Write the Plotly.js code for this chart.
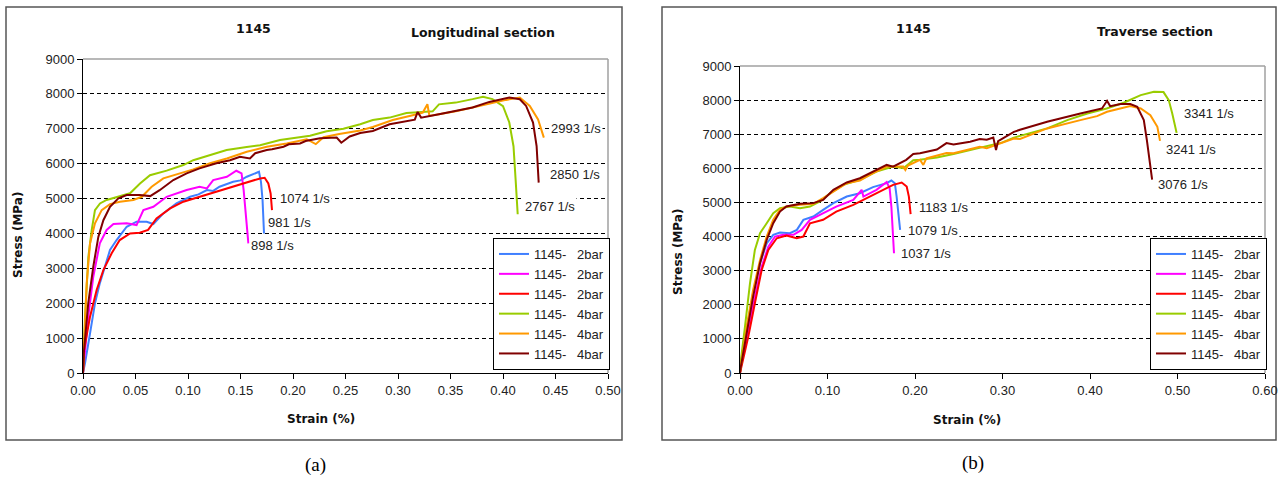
<!DOCTYPE html>
<html><head><meta charset="utf-8">
<script src="https://cdn.plot.ly/plotly-3.0.1.min.js"></script>
<style>html,body{margin:0;padding:0;background:#fff;}#chart{width:1278px;height:479px;}</style>
</head><body><div id="chart"></div>
<script>
// ---- Panel (a): Longitudinal section ----
const aBlueX = [0,0.0019,0.0067,0.0114,0.016,0.021,0.0257,0.032,0.0416,0.051,0.0606,0.067,0.0765,0.089,0.102,0.110,0.118,0.124,0.130,0.143,0.150,0.156,0.165,0.1676,0.1695,0.171,0.1724];
const aBlueY = [0,277,1136,1996,2569,3046,3524,3810,4192,4336,4336,4270,4575,4860,5050,5120,5243,5220,5338,5480,5520,5625,5720,5768,5480,4956,4000];
const aMagX = [0,0.001,0.005,0.0098,0.016,0.0225,0.029,0.0416,0.051,0.0575,0.067,0.0797,0.090,0.0987,0.111,0.118,0.124,0.137,0.146,0.151,0.153,0.155,0.1575];
const aMagY = [0,372,1614,2760,3715,4100,4270,4290,4240,4670,4765,5050,5150,5243,5338,5290,5530,5625,5797,5720,5243,4480,3715];
const aRedX = [0,0.001,0.0067,0.013,0.0194,0.0273,0.035,0.0448,0.054,0.062,0.070,0.083,0.0956,0.111,0.127,0.143,0.159,0.1686,0.173,0.1765,0.1787,0.18];
const aRedY = [0,660,1614,2378,2951,3430,3810,4000,4020,4100,4430,4717,4910,5050,5195,5338,5500,5577,5596,5434,5147,4670];
const aGreenX = [0,0.0019,0.0051,0.0083,0.0114,0.0162,0.0225,0.0337,0.0448,0.0543,0.0638,0.0797,0.0956,0.105,0.1178,0.1368,0.1559,0.1686,0.1876,0.2003,0.2162,0.232,0.248,0.264,0.276,0.292,0.308,0.323,0.333,0.339,0.355,0.371,0.381,0.390,0.400,0.406,0.410,0.412,0.414];
const aGreenY = [0,1600,3330,4100,4670,4860,4960,5050,5150,5430,5670,5800,5960,6100,6220,6390,6480,6530,6680,6740,6800,6930,7000,7130,7250,7320,7450,7480,7500,7700,7750,7850,7920,7850,7650,7180,6500,5550,4550];
const aOrangeX = [0,0.0035,0.0067,0.0114,0.0178,0.0257,0.0352,0.048,0.056,0.0654,0.0765,0.0924,0.105,0.121,0.137,0.156,0.175,0.194,0.213,0.2217,0.229,0.244,0.264,0.276,0.295,0.314,0.3236,0.328,0.3299,0.339,0.355,0.371,0.390,0.403,0.416,0.4255,0.4334,0.4389];
const aOrangeY = [0,2570,3715,4290,4670,4840,4910,4960,5050,5340,5580,5720,5835,6010,6150,6340,6485,6580,6700,6560,6760,6850,6950,7050,7250,7388,7464,7703,7368,7416,7500,7608,7750,7828,7895,7655,7270,6746];
const aBrownX = [0,0.001,0.005,0.0098,0.0146,0.0194,0.0257,0.0337,0.0416,0.054,0.064,0.073,0.086,0.0987,0.111,0.127,0.140,0.1495,0.159,0.164,0.175,0.180,0.191,0.196,0.2067,0.212,0.2257,0.2416,0.246,0.254,0.264,0.276,0.292,0.3076,0.316,0.3187,0.322,0.339,0.355,0.371,0.387,0.400,0.406,0.416,0.422,0.4286,0.432,0.434];
const aBrownY = [0,660,2000,3050,3900,4380,4765,5005,5100,5100,5070,5240,5530,5720,5865,6010,6100,6200,6150,6300,6390,6411,6485,6555,6580,6650,6725,6750,6600,6780,6880,6938,7129,7225,7260,7483,7320,7416,7512,7608,7770,7847,7895,7847,7655,7177,6507,5455];

// ---- Panel (b): Traverse section ----
const bBlueX = [0,0.001,0.0076,0.015,0.0229,0.0305,0.038,0.0457,0.057,0.065,0.0724,0.0838,0.095,0.1067,0.122,0.137,0.152,0.1676,0.173,0.177,0.179,0.181,0.183];
const bBlueY = [0,280,1260,2337,3218,3800,4050,4117,4100,4195,4490,4587,4782,4978,5173,5270,5450,5565,5643,5565,5173,4685,4195];
const bMagX = [0,0.001,0.0095,0.017,0.0248,0.0324,0.04,0.0495,0.061,0.0705,0.08,0.095,0.110,0.1295,0.139,0.141,0.156,0.1676,0.171,0.173,0.175,0.176];
const bMagY = [0,190,1260,2240,3120,3700,4000,4050,4050,4195,4490,4685,4880,5075,5370,5173,5370,5600,5418,4880,4100,3510];
const bRedX = [0,0.0095,0.017,0.0248,0.0324,0.042,0.053,0.0648,0.0724,0.08,0.095,0.110,0.1295,0.1486,0.1638,0.175,0.1848,0.1905,0.193,0.195];
const bRedY = [0,1066,2044,3022,3610,3950,4030,3950,4000,4390,4490,4733,4930,5173,5370,5515,5585,5467,5173,4655];
const bGreenX = [0,0.001,0.0057,0.0114,0.017,0.0229,0.0305,0.038,0.0457,0.057,0.0686,0.08,0.0914,0.103,0.118,0.137,0.156,0.175,0.1867,0.198,0.2057,0.225,0.244,0.263,0.282,0.30,0.313,0.332,0.351,0.374,0.397,0.419,0.4385,0.458,0.473,0.484,0.49,0.494,0.499];
const bGreenY = [0,380,1360,2630,3610,4100,4390,4685,4830,4880,4830,4880,5027,5270,5515,5660,5907,6054,6005,6240,6250,6320,6420,6540,6640,6760,6900,7030,7170,7413,7609,7755,7922,8147,8245,8235,8000,7609,7040];
const bOrangeX = [0,0.0076,0.015,0.0229,0.0305,0.038,0.0457,0.053,0.0686,0.0838,0.095,0.1067,0.122,0.137,0.152,0.1676,0.1867,0.189,0.192,0.2057,0.2095,0.213,0.236,0.244,0.274,0.282,0.313,0.32,0.351,0.389,0.408,0.4195,0.435,0.446,0.458,0.469,0.477,0.48];
const bOrangeY = [0,1360,2435,3315,4000,4490,4782,4880,4930,4960,5125,5320,5565,5640,5858,6054,6054,5950,6080,6250,6100,6290,6450,6445,6630,6590,6875,6860,7170,7413,7530,7658,7755,7824,7755,7560,7218,6807];
const bBrownX = [0,0.001,0.0076,0.015,0.0229,0.0305,0.038,0.0457,0.053,0.0686,0.0838,0.095,0.1067,0.122,0.137,0.152,0.1676,0.175,0.190,0.198,0.2057,0.225,0.236,0.244,0.263,0.274,0.282,0.2895,0.2926,0.295,0.305,0.313,0.32,0.351,0.389,0.4137,0.4195,0.423,0.435,0.446,0.454,0.4615,0.465,0.469,0.471];
const bBrownY = [0,185,1163,2240,3218,3900,4390,4733,4880,4960,4980,5075,5370,5585,5710,5907,6100,6050,6250,6420,6445,6550,6740,6700,6780,6860,6836,6900,6540,6800,6950,7071,7130,7364,7609,7755,7980,7824,7883,7883,7804,7413,6826,6142,5672];

const seriesNames = ["1145-\u00a0\u00a0\u00a02bar","1145-\u00a0\u00a0\u00a02bar","1145-\u00a0\u00a0\u00a02bar","1145-\u00a0\u00a0\u00a04bar","1145-\u00a0\u00a0\u00a04bar","1145-\u00a0\u00a0\u00a04bar"];
const seriesColors = ["#3F7FFF","#FF00FF","#FF0000","#99CC00","#FF9900","#800000"];

const aLabels = [["1074 1/s",0.186,5000],["981 1/s",0.174,4300],["898 1/s",0.158,3660],["2993 1/s",0.444,7010],["2850 1/s",0.443,5700],["2767 1/s",0.419,4780]];
const bLabels = [["3341 1/s",0.505,7610],["3241 1/s",0.485,6540],["3076 1/s",0.475,5540],["1183 1/s",0.202,4860],["1079 1/s",0.190,4170],["1037 1/s",0.182,3490]];
const aXTicks = [0,0.05,0.10,0.15,0.20,0.25,0.30,0.35,0.40,0.45,0.50];
const bXTicks = [0,0.10,0.20,0.30,0.40,0.50,0.60];
const yTicks = [0,1000,2000,3000,4000,5000,6000,7000,8000,9000];

const W=1278,H=479;
const px=v=>v/W, py=v=>1-v/H;

const aData=[[aBlueX,aBlueY],[aMagX,aMagY],[aRedX,aRedY],[aGreenX,aGreenY],[aOrangeX,aOrangeY],[aBrownX,aBrownY]];
const bData=[[bBlueX,bBlueY],[bMagX,bMagY],[bRedX,bRedY],[bGreenX,bGreenY],[bOrangeX,bOrangeY],[bBrownX,bBrownY]];
const traces=[];
aData.forEach((d,i)=>traces.push({x:d[0],y:d[1],type:'scatter',mode:'lines',name:seriesNames[i],line:{color:seriesColors[i],width:2},xaxis:'x',yaxis:'y',legend:'legend',hoverinfo:'skip'}));
bData.forEach((d,i)=>traces.push({x:d[0],y:d[1],type:'scatter',mode:'lines',name:seriesNames[i],line:{color:seriesColors[i],width:2},xaxis:'x2',yaxis:'y2',legend:'legend2',hoverinfo:'skip'}));

const tickFont={family:'Liberation Sans, Arial, sans-serif',size:13,color:'#222'};
function xa(dom,ticks,rng){return {domain:dom,range:rng,tickvals:ticks,ticktext:ticks.map(t=>t.toFixed(2)),showgrid:false,zeroline:false,showline:true,linecolor:'#000',linewidth:1,ticks:'outside',ticklen:5,tickcolor:'#000',tickfont:tickFont,fixedrange:true};}
function ya(dom,anchor){return {domain:dom,range:[0,9000],tickvals:yTicks,showgrid:true,gridcolor:'#000',gridwidth:1,griddash:'4px,3px',zeroline:false,showline:true,linecolor:'#000',linewidth:1,ticks:'outside',ticklen:5,tickcolor:'#000',tickfont:tickFont,anchor:anchor,fixedrange:true};}

const titleFont={family:'DejaVu Sans, Verdana, sans-serif',size:12.5,color:'#111',weight:'bold'};
const axTitleFont={family:'DejaVu Sans, Verdana, sans-serif',size:12,color:'#111',weight:'bold'};
const labFont={family:'Liberation Sans, Arial, sans-serif',size:13,color:'#222'};
const ann=[];
function T(text,x,y,font,extra){ann.push(Object.assign({text:text,x:px(x),y:py(y),xref:'paper',yref:'paper',showarrow:false,font:font,xanchor:'center',yanchor:'middle'},extra||{}));}
T('<b>1145</b>',253,29,titleFont);
T('<b>Longitudinal section</b>',483,32,titleFont);
T('<b>1145</b>',913,29,titleFont);
T('<b>Traverse section</b>',1155,31,titleFont);
T('<b>Strain (%)</b>',321,419,axTitleFont);
T('<b>Strain (%)</b>',967,420,axTitleFont);
T('<b>Stress (MPa)</b>',18,235,axTitleFont,{textangle:-90});
T('<b>Stress (MPa)</b>',678,252,axTitleFont,{textangle:-90});
T('(a)',315,465,{family:'Liberation Serif, Times New Roman, serif',size:19,color:'#000'});
T('(b)',973,463,{family:'Liberation Serif, Times New Roman, serif',size:19,color:'#000'});
aLabels.forEach(l=>ann.push({text:l[0],x:l[1],y:l[2],xref:'x',yref:'y',showarrow:false,xanchor:'left',yanchor:'middle',font:labFont,bgcolor:'#fff',borderpad:1}));
bLabels.forEach(l=>ann.push({text:l[0],x:l[1],y:l[2],xref:'x2',yref:'y2',showarrow:false,xanchor:'left',yanchor:'middle',font:labFont,bgcolor:'#fff',borderpad:1}));

const shapes=[
 {type:'rect',xref:'paper',yref:'paper',x0:px(6),x1:px(622),y0:py(440),y1:py(7),line:{color:'#555',width:1.5},layer:'below'},
 {type:'rect',xref:'paper',yref:'paper',x0:px(662),x1:px(1276),y0:py(440),y1:py(7),line:{color:'#555',width:1.5},layer:'below'},
 {type:'line',xref:'x domain',yref:'y domain',x0:0,x1:1,y0:1,y1:1,line:{color:'#A0A0A0',width:1.5},layer:'above'},
 {type:'line',xref:'x domain',yref:'y domain',x0:1,x1:1,y0:0,y1:1,line:{color:'#A0A0A0',width:1.5},layer:'above'},
 {type:'line',xref:'x2 domain',yref:'y2 domain',x0:0,x1:1,y0:1,y1:1,line:{color:'#A0A0A0',width:1.5},layer:'above'},
 {type:'line',xref:'x2 domain',yref:'y2 domain',x0:1,x1:1,y0:0,y1:1,line:{color:'#A0A0A0',width:1.5},layer:'above'}
];

const legFont={family:'Liberation Sans, Arial, sans-serif',size:13,color:'#222'};
const layout={
 width:W,height:H,margin:{l:0,r:0,t:0,b:0},paper_bgcolor:'#fff',plot_bgcolor:'#fff',showlegend:true,
 xaxis:Object.assign(xa([px(83),px(608)],aXTicks,[0,0.5]),{anchor:'y'}),
 yaxis:ya([1-373/H,1-59/H],'x'),
 xaxis2:Object.assign(xa([px(740),px(1265)],bXTicks,[0,0.6]),{anchor:'y2'}),
 yaxis2:ya([1-373/H,1-66/H],'x2'),
 legend:{x:px(493),y:py(238),xanchor:'left',yanchor:'top',bgcolor:'#fff',bordercolor:'#000',borderwidth:1,font:legFont,tracegroupgap:0,itemwidth:30},
 legend2:{x:px(1150),y:py(238),xanchor:'left',yanchor:'top',bgcolor:'#fff',bordercolor:'#000',borderwidth:1,font:legFont,tracegroupgap:0,itemwidth:30},
 annotations:ann,shapes:shapes
};
Plotly.newPlot('chart',traces,layout,{staticPlot:true,displayModeBar:false});
</script></body></html>
